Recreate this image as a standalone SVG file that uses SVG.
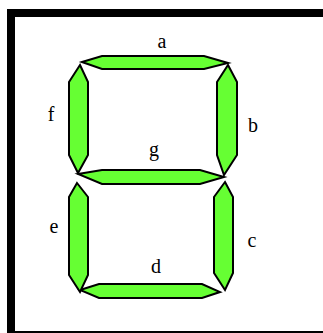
<svg xmlns="http://www.w3.org/2000/svg" width="323" height="333" viewBox="0 0 323 333">
<style>
.seg{fill:#66FF33;stroke:#000;stroke-width:2;stroke-linejoin:miter;stroke-miterlimit:10}
.lbl{font-family:"Liberation Serif","DejaVu Serif",serif;font-size:20px;fill:#000;text-anchor:middle}
</style>
<rect width="323" height="333" fill="#fff"/>
<g id="frame" fill="#000">
<rect x="7" y="9" width="316" height="8"/>
<rect x="7" y="9" width="8" height="324"/>
<rect x="7" y="331" width="316" height="2"/>
</g>
<g id="seg-a"><polygon class="seg" points="82,62 102,56 204,56 228,63 204,69 102,69"/><text class="lbl" x="162" y="48">a</text></g>
<g id="seg-b"><polygon class="seg" points="228,65 237,82 237,155 224,175 217,155 217,82"/><text class="lbl" x="253" y="132">b</text></g>
<g id="seg-c"><polygon class="seg" points="225,182 233,197 233,273 225,290 214,273 214,197"/><text class="lbl" x="252" y="247">c</text></g>
<g id="seg-d"><polygon class="seg" points="80,290 99,284 202,284 220,292 202,298 99,298"/><text class="lbl" x="156" y="273">d</text></g>
<g id="seg-e"><polygon class="seg" points="77,183 88,197 88,275 80,292 69,275 69,197"/><text class="lbl" x="54" y="233">e</text></g>
<g id="seg-f"><polygon class="seg" points="80,65 88,82 88,155 78,173 69,155 69,82"/><text class="lbl" x="51" y="121">f</text></g>
<g id="seg-g"><polygon class="seg" points="78,174 102,170 200,170 224,177 200,184 102,184"/><text class="lbl" x="154" y="156">g</text></g>
<g id="connectors"></g>
</svg>
